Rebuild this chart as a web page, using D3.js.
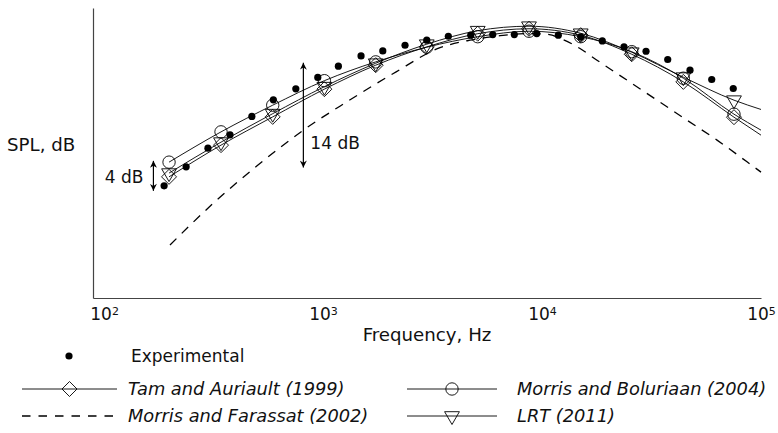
<!DOCTYPE html>
<html>
<head>
<meta charset="utf-8">
<title>SPL spectrum</title>
<script src="https://d3js.org/d3.v7.min.js"></script>
<style>
  body { margin: 0; background: #fff; }
  text { font-family: "DejaVu Sans", sans-serif; font-size: 17px; fill: #111; }
  .leg { font-style: italic; font-size: 17.8px; }
  .lab { font-size: 18.2px; }
</style>
</head>
<body>
<svg width="778" height="433"></svg>
<script>
// experimental third-octave points
var expFreq = [188, 237, 298, 376, 473, 593, 751, 946, 1175, 1491, 1874, 2368, 2976, 3734,
               4725, 5956, 7472, 9459, 11870, 15020, 18850, 23680, 29850, 37500, 47400, 59560, 74700];
var expSPL = [76.97, 79.51, 82.0, 83.77, 86.23, 88.44, 89.91, 91.43, 92.93, 94.31, 94.97, 95.73, 96.4, 96.93,
              97.07, 97.16, 97.16, 97.29, 97.07, 96.84, 96.31, 95.51, 94.93, 93.83, 92.4, 91.16, 89.96];

// model curves (last point = end of line, no marker)
var modelFreq = [198, 342, 589, 1014, 1740, 2976, 5086, 8720, 15020, 25680, 44180, 75270, 100000];
var tamSPL = [78.17, 82.4, 86.17, 89.87, 93.07, 95.51, 97.27, 97.93, 97.07, 94.53, 90.84, 86.13, 83.73];
var boluriaanSPL = [80.13, 84.17, 87.73, 91.0, 93.51, 95.47, 96.87, 97.6, 96.87, 94.87, 91.33, 86.53, 84.4];
var lrtSPL = [78.67, 82.8, 86.6, 90.2, 93.33, 95.87, 97.67, 98.27, 97.33, 94.8, 91.47, 88.4, 87.16];

var farassatFreq = [200, 316, 498, 813, 1283, 2094, 3422, 4690, 6430, 8364, 10540, 12470, 14910, 17830,
                    24440, 33500, 45930, 62970, 86330, 100000];
var farassatSPL = [69.07, 74.67, 79.6, 84.4, 88.17, 91.96, 95.4, 96.4, 97.0, 97.27, 97.2, 96.49, 95.29, 93.73,
                   91.07, 88.4, 85.73, 83.07, 80.17, 78.8];

// axis ticks
var xTicks = [1e2, 1e3, 1e4, 1e5];
var xTickBase = "10";
var xTickExp = ["2", "3", "4", "5"];

// dB span arrows
var arrowFreq = [168, 813];
var arrowLow = [76.3, 79.4];
var arrowHigh = [80.3, 93.4];
var arrowLabelSPL = [78.15, 82.7];
var arrowText = ["4 dB", "14 dB"];

var svg = d3.select("svg"),
    width = +svg.attr("width"),
    height = +svg.attr("height");

var x = d3.scaleLog().domain([89, 1e5]).range([93, 761]);
var y = d3.scaleLinear().domain([62, 100.7]).range([298, 8]);

svg.append("defs").append("marker")
    .attr("id", "head")
    .attr("viewBox", "0 0 10 10")
    .attr("refX", 10).attr("refY", 5)
    .attr("markerUnits", "userSpaceOnUse")
    .attr("markerWidth", 9).attr("markerHeight", 7)
    .attr("orient", "auto-start-reverse")
  .append("path")
    .attr("d", "M0,0L10,5L0,10L3,5Z")
    .attr("fill", "#000");

// axes
var gx = svg.append("g")
    .attr("transform", "translate(0," + y.range()[0] + ")")
    .call(d3.axisBottom(x).tickValues(xTicks).tickSize(0).tickPadding(10).tickFormat(""));
gx.selectAll(".tick text").each(function(d, i) {
  var t = d3.select(this);
  t.append("tspan").text(xTickBase);
  t.append("tspan").attr("dy", "-0.5em").attr("font-size", "11px").text(xTickExp[i]);
});
var gy = svg.append("g")
    .attr("transform", "translate(" + x.range()[0] + ",0)")
    .call(d3.axisLeft(y).tickValues([]).tickSizeOuter(0));
svg.selectAll(".domain").attr("stroke", "#444").attr("stroke-width", 1.2);

svg.append("text").attr("class", "lab").attr("x", 7).attr("y", 151).text("SPL, dB");
svg.append("text").attr("class", "lab").attr("x", 427).attr("y", 341).attr("text-anchor", "middle").text("Frequency, Hz");

// lines
var line = d3.line()
    .x(function(d) { return x(d[0]); })
    .y(function(d) { return y(d[1]); })
    .curve(d3.curveMonotoneX);

svg.append("path")
    .datum(d3.zip(farassatFreq, farassatSPL))
    .attr("fill", "none").attr("stroke", "#000")
    .attr("stroke-width", 1.3).attr("stroke-dasharray", "9,7.5")
    .attr("d", line);

var series = [
  { values: tamSPL, mark: "diamond", label: "Tam and Auriault (1999)" },
  { values: boluriaanSPL, mark: "circle", label: "Morris and Boluriaan (2004)" },
  { values: lrtSPL, mark: "triangle", label: "LRT (2011)" }
];

function drawMark(g, type, cx, cy) {
  if (type == "circle") {
    g.append("circle").attr("cx", cx).attr("cy", cy).attr("r", 6.2)
      .attr("fill", "none").attr("stroke", "#000").attr("stroke-width", 0.9);
  } else {
    var p = type == "diamond" ? "M0,-7.5L7.5,0L0,7.5L-7.5,0Z" : "M-7.4,-4.3L7.4,-4.3L0,8.5Z";
    g.append("path").attr("d", p).attr("transform", "translate(" + cx + "," + cy + ")")
      .attr("fill", "none").attr("stroke", "#000").attr("stroke-width", 0.9);
  }
}

series.forEach(function(s) {
  var pts = d3.zip(modelFreq, s.values);
  svg.append("path")
      .datum(pts)
      .attr("fill", "none").attr("stroke", "#000").attr("stroke-width", 0.9)
      .attr("d", line);
  var g = svg.append("g");
  pts.forEach(function(d) {
    if (d[0] < 1e5) drawMark(g, s.mark, x(d[0]), y(d[1]));
  });
});

svg.append("g").selectAll("circle")
    .data(d3.zip(expFreq, expSPL))
  .enter().append("circle")
    .attr("cx", function(d) { return x(d[0]); })
    .attr("cy", function(d) { return y(d[1]); })
    .attr("r", 3.6)
    .attr("fill", "#000");

// dB arrows
arrowFreq.forEach(function(f, i) {
  svg.append("line")
      .attr("x1", x(f)).attr("x2", x(f))
      .attr("y1", y(arrowLow[i])).attr("y2", y(arrowHigh[i]))
      .attr("stroke", "#000").attr("stroke-width", 1.2)
      .attr("marker-start", "url(#head)").attr("marker-end", "url(#head)");
  svg.append("text")
      .attr("x", i == 0 ? x(f) - 10 : x(f) + 7)
      .attr("y", y(arrowLabelSPL[i]) + 6)
      .attr("text-anchor", i == 0 ? "end" : "start")
      .text(arrowText[i]);
});

// legend
var r1 = 356, r2 = 389, r3 = 416;
svg.append("circle").attr("cx", 69).attr("cy", r1).attr("r", 3.6).attr("fill", "#000");
svg.append("text").attr("x", 131).attr("y", r1 + 6).text("Experimental");

var legRows = [
  { x0: 22, x1: 117, tx: 128, y: r2, s: series[0] },
  { x0: 407, x1: 497, tx: 517, y: r2, s: series[1] },
  { x0: 407, x1: 497, tx: 517, y: r3, s: series[2] }
];
var lg = svg.append("g");
legRows.forEach(function(r) {
  lg.append("line").attr("x1", r.x0).attr("x2", r.x1).attr("y1", r.y).attr("y2", r.y)
    .attr("stroke", "#000").attr("stroke-width", 0.9);
  drawMark(lg, r.s.mark, (r.x0 + r.x1) / 2, r.y);
  lg.append("text").attr("class", "leg").attr("x", r.tx).attr("y", r.y + 6).text(r.s.label);
});
lg.append("line").attr("x1", 22).attr("x2", 117).attr("y1", r3).attr("y2", r3)
  .attr("stroke", "#000").attr("stroke-width", 1.3).attr("stroke-dasharray", "8.5,8");
lg.append("text").attr("class", "leg").attr("x", 128).attr("y", r3 + 6).text("Morris and Farassat (2002)");
</script>
</body>
</html>
